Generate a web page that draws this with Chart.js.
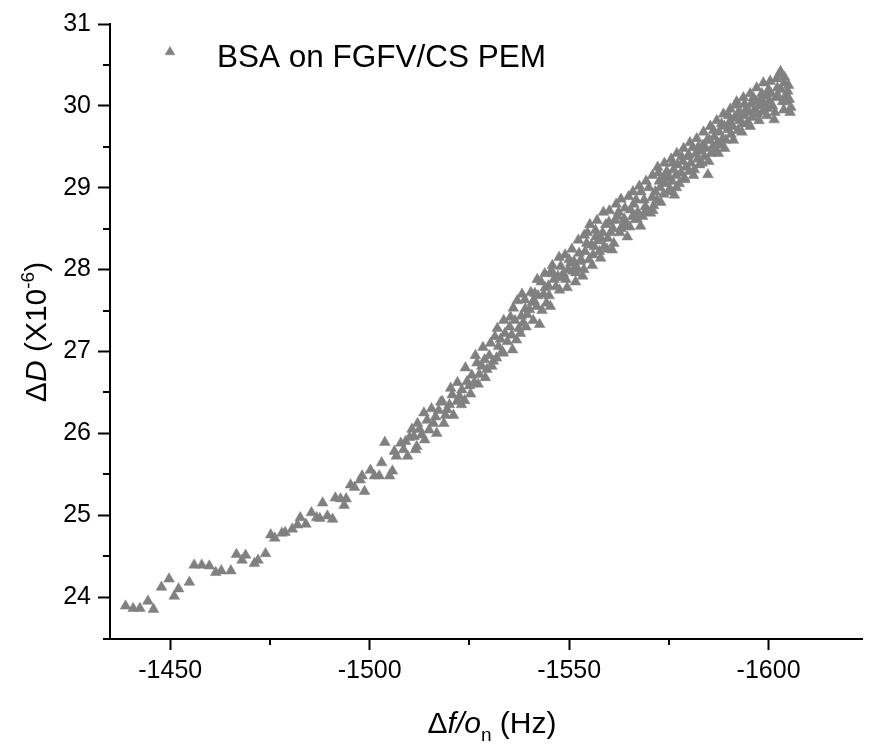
<!DOCTYPE html>
<html>
<head>
<meta charset="utf-8">
<script src="https://cdn.jsdelivr.net/npm/chart.js@4.4.1/dist/chart.umd.min.js"></script>
<style>
html,body{margin:0;padding:0;background:#ffffff;}
#wrap{width:869px;height:744px;position:relative;}
</style>
</head>
<body>
<div id="wrap"><canvas id="c" width="869" height="744"></canvas></div>
<script>
// ---- data ----
const seriesLabel = 'BSA on FGFV/CS PEM';

const xValues = [
  -1438.8,-1440.7,-1442.4,-1444.4,-1445.8,-1447.8,
  -1449.7,-1451.0,-1452.1,-1454.8,-1456.0,-1457.9,
  -1459.8,-1461.4,-1462.8,-1465.2,-1466.6,-1468.0,
  -1468.9,-1471.1,-1472.0,-1473.9,-1475.2,-1476.2,
  -1478.0,-1478.8,-1480.6,-1481.9,-1482.6,-1484.0,
  -1485.4,-1486.7,-1487.5,-1488.2,-1489.4,-1490.7,
  -1491.4,-1492.7,-1493.6,-1494.1,-1495.2,-1496.2,
  -1497.6,-1498.7,-1498.1,-1500.2,-1501.2,-1502.4,
  -1503.0,-1503.8,-1505.0,-1505.7,-1506.2,-1506.7,
  -1507.8,-1509.0,-1511.1,-1511.8,-1513.6,-1514.4,
  -1514.9,-1516.5,-1518.2,-1519.4,-1520.7,-1521.9,
  -1523.1,-1524.4,-1525.6,-1526.9,-1528.1,-1529.4,
  -1530.6,-1531.4,-1532.3,-1533.9,-1535.1,-1536.0,
  -1536.8,-1538.0,-1538.9,-1540.1,-1541.4,-1542.6,
  -1543.0,-1544.3,-1545.5,-1546.7,-1547.9,-1549.2,
  -1550.4,-1551.7,-1552.5,-1553.4,-1554.6,-1555.0,
  -1556.3,-1556.7,-1557.9,-1559.2,-1560.4,-1560.8,
  -1562.1,-1563.3,-1564.6,-1565.4,-1566.6,-1567.9,
  -1569.1,-1570.4,
  -1508.5,-1510.0,-1512.5,-1513.0,-1516.0,-1517.3,
  -1519.0,-1520.0,-1522.5,-1523.8,-1525.0,-1526.2,
  -1527.5,-1528.8,-1530.0,-1531.0,-1532.8,-1533.2,
  -1534.5,-1535.6,-1536.4,-1537.4,-1538.5,-1539.5,
  -1540.8,-1541.9,-1542.2,-1543.6,-1544.8,-1545.0,
  -1546.2,-1547.2,-1548.5,-1549.8,-1550.9,-1551.2,
  -1552.0,-1553.0,-1554.0,-1555.6,-1556.0,-1557.3,
  -1558.4,-1558.8,-1559.7,-1561.0,-1561.5,-1562.7,
  -1563.8,-1564.2,-1565.9,-1566.2,-1567.2,-1568.4,
  -1568.8,-1569.6,
  -1570.8,-1571.2,-1571.6,-1572.0,-1572.4,-1572.8,
  -1573.3,-1573.7,-1574.1,-1574.5,-1575.0,-1575.4,
  -1575.8,-1576.2,-1576.4,-1576.8,-1577.2,-1577.6,
  -1578.0,-1578.5,-1578.9,-1579.3,-1579.7,-1580.1,
  -1580.5,-1581.0,-1581.4,-1581.8,-1582.2,-1582.7,
  -1583.1,-1583.5,-1583.9,-1584.3,-1584.8,-1585.2,
  -1585.6,-1586.0,-1586.4,-1586.8,-1587.2,-1587.6,
  -1588.0,-1588.5,-1588.9,-1589.3,-1589.8,-1590.2,
  -1590.6,-1591.0,-1591.4,-1591.9,-1592.3,-1592.7,
  -1593.1,-1593.5,-1593.9,-1594.3,-1594.8,-1595.2,
  -1595.6,-1596.0,-1596.5,-1596.9,-1597.3,-1597.7,
  -1598.1,-1598.5,-1598.9,-1599.4,-1599.8,-1600.2,
  -1600.6,-1601.0,-1601.4,-1601.8,-1602.2,-1602.7,
  -1603.1,-1603.5,-1603.9,-1604.3,-1604.8,-1605.2,
  -1605.6,-1605.0,
  // upper edge of the band
  -1510.6,-1512.0,-1515.5,-1517.8,-1520.3,-1522.0,
  -1524.0,-1526.5,-1528.4,-1530.3,-1532.0,-1533.6,
  -1535.3,-1537.0,-1538.2,-1540.4,-1542.0,-1543.9,
  -1545.8,-1547.5,-1549.0,-1550.7,-1552.3,-1553.8,
  -1555.2,-1557.0,-1558.6,-1560.1,-1561.8,-1563.0,
  -1564.9,-1566.0,-1567.6,-1569.3,-1570.9,-1572.2,
  -1573.9,-1575.6,-1577.0,-1578.7,-1580.3,-1582.0,
  -1583.7,-1585.4,-1587.0,-1588.7,-1590.4,-1592.0,
  -1593.7,-1595.4,-1597.0,-1598.7,-1600.4,-1602.0,
  -1604.0,-1603.0,
  // lower edge of the band
  -1509.5,-1511.5,-1513.8,-1516.8,-1518.6,-1521.0,
  -1523.0,-1525.3,-1527.2,-1529.0,-1531.8,-1533.5,
  -1535.8,-1537.8,-1539.2,-1541.0,-1543.2,-1545.3,
  -1547.6,-1549.5,-1551.6,-1553.7,-1555.8,-1557.6,
  -1559.5,-1561.2,-1563.0,-1565.2,-1567.0,-1569.0,
  -1571.0,-1573.0,-1574.8,-1576.9,-1579.0,-1581.2,
  -1583.3,-1585.0,-1587.4,-1589.0,-1591.2,-1593.3,
  -1595.4,-1597.6,-1599.6,-1601.6,-1603.8,-1605.4,
  // middle of the band
  -1539.0,-1541.2,-1544.0,-1546.0,-1548.0,-1550.0,
  -1552.8,-1554.4,-1556.6,-1558.0,-1560.0,-1562.4,
  -1564.0,-1566.8,-1568.0,-1570.0,-1572.6,-1574.4,
  -1576.0,-1578.2,-1580.0,-1582.4,-1584.6,-1586.2,
  -1588.2,-1590.0,-1592.4,-1594.0,-1596.2,-1598.3,
  -1600.0,-1602.4,-1604.6
];

const yValues = [
  23.89,23.86,23.86,23.95,23.85,24.12,
  24.22,24.01,24.10,24.18,24.39,24.39,
  24.38,24.30,24.32,24.32,24.52,24.45,
  24.51,24.41,24.45,24.53,24.76,24.72,
  24.78,24.79,24.83,24.88,24.97,24.89,
  25.03,24.97,24.96,25.15,24.99,24.95,
  25.21,25.20,25.12,25.20,25.37,25.34,
  25.43,25.29,25.48,25.55,25.48,25.48,
  25.64,25.89,25.48,25.54,25.78,25.72,
  25.88,25.90,25.96,25.84,26.25,26.16,
  26.04,26.20,26.39,26.29,26.47,26.39,
  26.53,26.63,26.71,26.86,26.82,26.78,
  26.82,27.18,27.06,27.22,27.30,27.53,
  27.14,27.43,27.63,27.51,27.71,27.33,
  27.85,27.59,27.98,27.79,28.04,27.88,
  28.08,27.96,28.20,27.92,28.45,28.12,
  28.28,28.40,28.14,28.55,28.45,28.24,
  28.65,28.53,28.40,28.73,28.61,28.53,
  28.77,28.69,
  25.80,25.95,26.05,25.98,26.12,26.28,
  26.22,26.35,26.45,26.40,26.58,26.62,
  26.72,26.90,26.95,26.88,27.15,27.00,
  27.12,27.20,27.38,27.28,27.35,27.45,
  27.60,27.55,27.68,27.70,27.80,27.68,
  27.88,27.92,27.95,28.00,27.98,28.10,
  28.02,28.12,28.22,28.30,28.18,28.35,
  28.45,28.28,28.38,28.50,28.60,28.45,
  28.62,28.55,28.65,28.80,28.70,28.65,
  28.85,28.72,
  28.88,28.78,28.95,28.85,29.18,29.00,
  29.10,28.92,29.05,29.20,29.12,28.98,
  29.08,29.22,28.91,29.15,29.28,29.05,
  29.18,29.32,29.12,29.25,29.38,29.20,
  29.30,29.49,29.22,29.42,29.35,29.28,
  29.45,29.52,29.38,29.48,29.16,29.58,
  29.42,29.50,29.62,29.45,29.55,29.68,
  29.52,29.60,29.75,29.58,29.71,29.80,
  29.65,29.75,29.85,30.01,29.70,29.82,
  29.90,29.78,29.88,29.95,29.80,29.92,
  30.02,29.86,29.95,30.05,29.90,30.00,
  30.08,29.93,30.02,30.12,29.97,30.06,
  30.15,30.00,29.83,30.10,30.22,30.38,
  30.20,30.05,30.28,30.12,30.18,30.08,
  29.98,30.25,
  // upper edge of the band
  26.05,26.12,26.30,26.38,26.55,26.62,
  26.80,26.95,27.05,27.10,27.28,27.38,
  27.42,27.62,27.70,27.72,27.88,27.95,
  28.05,28.15,28.18,28.25,28.36,28.42,
  28.55,28.60,28.70,28.72,28.80,28.86,
  28.89,28.95,29.02,29.08,29.15,29.25,
  29.30,29.35,29.42,29.48,29.55,29.60,
  29.68,29.75,29.82,29.90,29.96,30.05,
  30.10,30.15,30.22,30.28,30.30,30.33,
  30.35,30.42,
  // lower edge of the band
  25.72,25.80,25.92,26.00,26.12,26.22,
  26.35,26.48,26.60,26.68,26.92,26.98,
  27.02,27.22,27.30,27.38,27.50,27.55,
  27.75,27.78,27.85,28.00,28.05,28.22,
  28.25,28.32,28.50,28.52,28.62,28.70,
  28.72,28.82,28.95,29.00,29.10,29.15,
  29.30,29.32,29.42,29.48,29.58,29.68,
  29.75,29.82,29.88,29.92,29.95,29.92,
  // middle of the band
  27.52,27.62,27.78,27.95,27.90,28.12,
  28.10,28.32,28.48,28.38,28.58,28.70,
  28.75,28.85,28.95,29.00,29.08,29.15,
  29.30,29.38,29.40,29.50,29.58,29.70,
  29.78,29.88,29.92,30.02,30.10,30.15,
  30.20,30.12,30.05
];

const xMajorTicks = [-1450, -1500, -1550, -1600];
const xMinorTicks = [-1475, -1525, -1575];
const yMajorTicks = [24, 25, 26, 27, 28, 29, 30, 31];
const yMinorTicks = [24.5, 25.5, 26.5, 27.5, 28.5, 29.5, 30.5];
const xRange = [-1623.5, -1434.9];
const yRange = [23.487, 31];

// ---- styling ----
const FONT = '"Liberation Sans", Arial, Helvetica, sans-serif';
const MARKER = '#808080';

const points = xValues.map((x, i) => ({ x: x, y: yValues[i] }));

const decorPlugin = {
  id: 'decor',
  afterDraw(chart) {
    const ctx = chart.ctx;
    const xs = chart.scales.x, ys = chart.scales.y;
    const area = chart.chartArea;
    ctx.save();
    ctx.strokeStyle = '#000';
    ctx.lineWidth = 2;
    ctx.beginPath();
    xMinorTicks.forEach(v => {
      const px = Math.round(xs.getPixelForValue(v));
      ctx.moveTo(px, area.bottom); ctx.lineTo(px, area.bottom + 6);
    });
    yMinorTicks.forEach(v => {
      const py = Math.round(ys.getPixelForValue(v));
      ctx.moveTo(area.left, py); ctx.lineTo(area.left - 7, py);
    });
    ctx.moveTo(area.left, area.bottom); ctx.lineTo(area.left - 7, area.bottom);
    ctx.stroke();

    ctx.fillStyle = '#000';
    ctx.textBaseline = 'alphabetic';
    function rich(parts, x, y) {
      let total = 0;
      parts.forEach(p => { ctx.font = p.font; p.w = ctx.measureText(p.t).width; total += p.w; });
      let cx = x - total / 2;
      parts.forEach(p => { ctx.font = p.font; ctx.fillText(p.t, cx, y + (p.dy || 0)); cx += p.w; });
    }
    rich([
      { t: '\u0394', font: '30px ' + FONT },
      { t: 'f/o', font: 'italic 30px ' + FONT },
      { t: 'n', font: '19px ' + FONT, dy: 8 },
      { t: ' (Hz)', font: '30px ' + FONT }
    ], 492, 733);
    ctx.save();
    ctx.translate(46, 332);
    ctx.rotate(-Math.PI / 2);
    rich([
      { t: '\u0394', font: '30px ' + FONT },
      { t: 'D', font: 'italic 30px ' + FONT },
      { t: ' (X10', font: '30px ' + FONT },
      { t: '-6', font: '19px ' + FONT, dy: -12 },
      { t: ')', font: '30px ' + FONT }
    ], 0, 0);
    ctx.restore();

    ctx.fillStyle = MARKER;
    ctx.strokeStyle = MARKER;
    ctx.lineWidth = 0.5;
    Chart.helpers.drawPoint(ctx, { pointStyle: 'triangle', radius: 5.6, rotation: 0, borderWidth: 0.5 }, 170, 52);
    ctx.fillStyle = '#000';
    ctx.font = '31.5px ' + FONT;
    ctx.fillText(seriesLabel, 217, 66.5);
    ctx.restore();
  }
};

const plainNumber = v => String(v);

new Chart(document.getElementById('c'), {
  type: 'scatter',
  data: {
    datasets: [{
      label: seriesLabel,
      data: points,
      pointStyle: 'triangle',
      pointRadius: 6.2,
      pointHoverRadius: 6.2,
      backgroundColor: MARKER,
      borderColor: MARKER,
      borderWidth: 0.5
    }]
  },
  options: {
    responsive: false,
    animation: false,
    devicePixelRatio: 1,
    layout: { padding: { top: 24, right: 0, left: 0, bottom: 0 } },
    plugins: {
      legend: { display: false },
      tooltip: { enabled: false }
    },
    scales: {
      x: {
        type: 'linear',
        position: 'bottom',
        reverse: true,
        min: xRange[0],
        max: xRange[1],
        afterBuildTicks: s => { s.ticks = xMajorTicks.map(v => ({ value: v })); },
        afterFit: s => { s.height = 105; },
        grid: { display: true, drawOnChartArea: false, drawTicks: true, tickLength: 11, tickWidth: 2, tickColor: '#000' },
        border: { display: true, color: '#000', width: 2 },
        ticks: { color: '#000', font: { family: FONT, size: 25 }, padding: 6, maxRotation: 0, callback: plainNumber },
        title: { display: false }
      },
      y: {
        type: 'linear',
        position: 'left',
        min: yRange[0],
        max: yRange[1],
        afterBuildTicks: s => { s.ticks = yMajorTicks.map(v => ({ value: v })); },
        afterFit: s => { s.width = 110; },
        grid: { display: true, drawOnChartArea: false, drawTicks: true, tickLength: 12, tickWidth: 2, tickColor: '#000' },
        border: { display: true, color: '#000', width: 2 },
        ticks: { color: '#000', font: { family: FONT, size: 25 }, padding: 7, callback: plainNumber },
        title: { display: false }
      }
    }
  },
  plugins: [decorPlugin]
});
</script>
</body>
</html>
